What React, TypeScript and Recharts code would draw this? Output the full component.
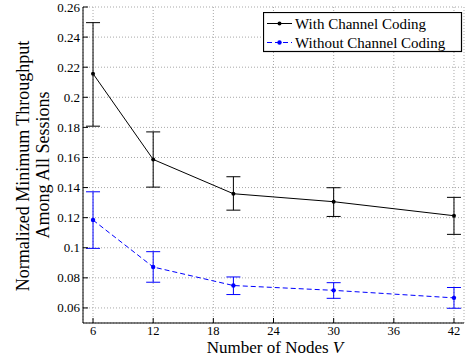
import { LineChart, Line, XAxis, YAxis, CartesianGrid, ErrorBar, Legend } from 'recharts';

// values (mean, lower and upper end of each error bar)
const nodes = [6, 12, 20, 30, 42];
const withMean = [0.2157, 0.1587, 0.1359, 0.1306, 0.1213];
const withLow = [0.1808, 0.1403, 0.125, 0.1208, 0.1089];
const withHigh = [0.2496, 0.177, 0.1472, 0.1399, 0.1335];
const withoutMean = [0.1184, 0.0872, 0.0749, 0.0717, 0.0667];
const withoutLow = [0.0996, 0.0771, 0.0689, 0.0664, 0.0598];
const withoutHigh = [0.1372, 0.0974, 0.0806, 0.0768, 0.0736];

const xTicks = [6, 12, 18, 24, 30, 36, 42];
const yTicks = [0.06, 0.08, 0.1, 0.12, 0.14, 0.16, 0.18, 0.2, 0.22, 0.24, 0.26];

const serif = { fontFamily: "'Liberation Serif', serif" };
const BLUE = '#0000ff';

const data = nodes.map((n, i) => ({
  n,
  withCoding: withMean[i],
  withErr: [withMean[i] - withLow[i], withHigh[i] - withMean[i]],
  withoutCoding: withoutMean[i],
  withoutErr: [withoutMean[i] - withoutLow[i], withoutHigh[i] - withoutMean[i]],
}));

const fmt = (v: number) => String(+v.toFixed(2));

// MATLAB-style ticks: pointing into the plot box
// eslint-disable-next-line @typescript-eslint/no-explicit-any
const BottomTick = ({ x, y, payload }: any) => (
  <g>
    <line x1={x} x2={x} y1={y} y2={y - 5} stroke="#000" />
    <text x={x} y={y + 12} textAnchor="middle" style={serif} fontSize={12.5} fill="#000">
      {payload.value}
    </text>
  </g>
);
// eslint-disable-next-line @typescript-eslint/no-explicit-any
const TopTick = ({ x, y }: any) => <line x1={x} x2={x} y1={y} y2={y + 5} stroke="#000" />;
// eslint-disable-next-line @typescript-eslint/no-explicit-any
const LeftTick = ({ x, y, payload }: any) => (
  <g>
    <line x1={x} x2={x + 5} y1={y} y2={y} stroke="#000" />
    <text x={x - 3} y={y + 4.5} textAnchor="end" style={serif} fontSize={13} fill="#000">
      {fmt(payload.value)}
    </text>
  </g>
);
// eslint-disable-next-line @typescript-eslint/no-explicit-any
const RightTick = ({ x, y }: any) => <line x1={x} x2={x - 5} y1={y} y2={y} stroke="#000" />;

const LegendBox = () => (
  <svg width={200} height={41} style={{ display: 'block' }}>
    <rect x={0.5} y={0.5} width={198} height={39} fill="#fff" stroke="#000" strokeWidth={1.2} />
    <line x1={4} x2={29} y1={11.5} y2={11.5} stroke="#000" />
    <circle cx={16.5} cy={11.5} r={2} fill="#000" />
    <text x={32} y={16.5} style={serif} fontSize={15} fill="#000">With Channel Coding</text>
    <line x1={4} x2={29} y1={30.5} y2={30.5} stroke={BLUE} strokeDasharray="5 3" />
    <circle cx={16.5} cy={30.5} r={2.2} fill={BLUE} />
    <text x={32} y={35.5} style={serif} fontSize={15} fill="#000">Without Channel Coding</text>
  </svg>
);

export default function App() {
  return (
    <div style={{ position: 'absolute', left: 0, top: 0, width: 469, height: 360, background: '#fff' }}>
      <LineChart width={469} height={360} data={data} margin={{ top: 7, right: 5, bottom: 0, left: 0 }}>
        <CartesianGrid stroke="#a8a8a8" strokeDasharray="1 2" />
        <XAxis
          dataKey="n" type="number" domain={[5, 43]} ticks={xTicks} height={37}
          axisLine={{ stroke: '#000' }} tickLine={false} tickSize={0} tickMargin={0}
          tick={BottomTick} interval={0}
        />
        <XAxis
          xAxisId="top" orientation="top" dataKey="n" type="number" domain={[5, 43]} ticks={xTicks}
          height={0} axisLine={{ stroke: '#000' }} tickLine={false} tickSize={0} tickMargin={0}
          tick={TopTick} interval={0}
        />
        <YAxis
          type="number" domain={[0.05, 0.26]} ticks={yTicks} width={83}
          axisLine={{ stroke: '#000' }} tickLine={false} tickSize={0} tickMargin={0}
          tick={LeftTick} interval={0}
        />
        <YAxis
          yAxisId="right" orientation="right" type="number" domain={[0.05, 0.26]} ticks={yTicks} width={0}
          axisLine={{ stroke: '#000' }} tickLine={false} tickSize={0} tickMargin={0}
          tick={RightTick} interval={0}
        />
        <Line
          dataKey="withCoding" stroke="#000" strokeWidth={1} isAnimationActive={false}
          dot={{ r: 2, fill: '#000', stroke: '#000', strokeWidth: 0 }} activeDot={false}
        >
          <ErrorBar dataKey="withErr" direction="y" width={7} stroke="#000" strokeWidth={1} />
        </Line>
        <Line
          dataKey="withoutCoding" stroke={BLUE} strokeWidth={1} strokeDasharray="5 3" isAnimationActive={false}
          dot={{ r: 2.2, fill: BLUE, stroke: BLUE, strokeWidth: 0 }} activeDot={false}
        >
          <ErrorBar dataKey="withoutErr" direction="y" width={7} stroke={BLUE} strokeWidth={1} />
        </Line>
        <Legend
          layout="vertical" align="center" verticalAlign="middle"
          wrapperStyle={{ left: 263, top: 12, width: 200, height: 41 }}
          content={LegendBox}
        />
        <text x={275} y={353} textAnchor="middle" style={serif} fontSize={17} fill="#000">
          Number of Nodes <tspan fontStyle="italic">V</tspan>
        </text>
        <text
          transform="translate(29,166) rotate(-90)" textAnchor="middle"
          style={serif} fontSize={18} fill="#000"
        >
          Normalized Minimum Throughput
        </text>
        <text
          transform="translate(49,165) rotate(-90)" textAnchor="middle"
          style={serif} fontSize={18} fill="#000"
        >
          Among All Sessions
        </text>
      </LineChart>
    </div>
  );
}
